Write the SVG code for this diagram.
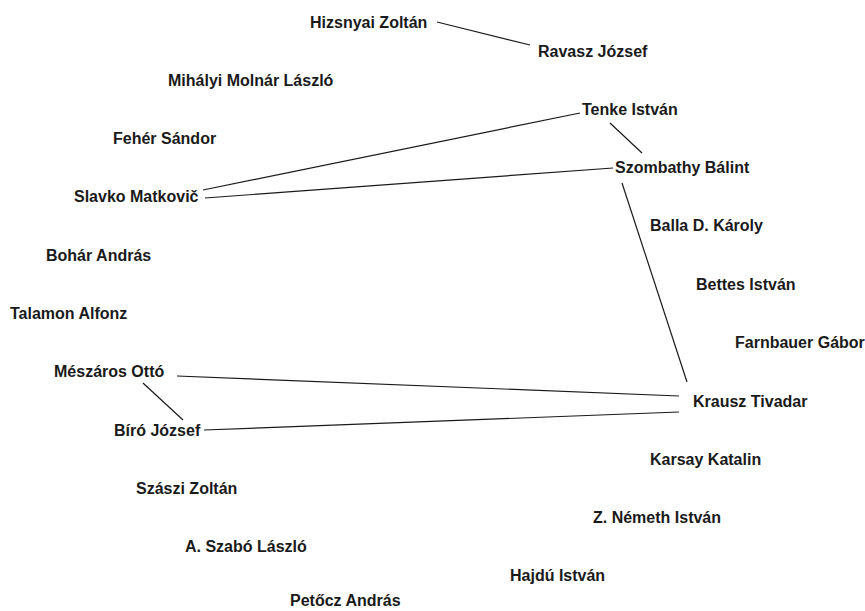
<svg xmlns="http://www.w3.org/2000/svg" width="865" height="611" viewBox="0 0 865 611">
  <style>
    .lbl { font-family: "Liberation Sans", Arial, sans-serif; font-size: 16px; font-weight: bold; fill: #1a1a1a; }
    .edge { stroke: #1a1a1a; stroke-width: 1.2; fill: none; }
  </style>
  <rect width="865" height="611" fill="#ffffff"/>
  <g id="edges">
    <line class="edge" x1="437" y1="22" x2="530" y2="45"/>
    <line class="edge" x1="203" y1="190" x2="580" y2="113"/>
    <line class="edge" x1="205" y1="198" x2="613" y2="168"/>
    <line class="edge" x1="610" y1="123" x2="642" y2="153"/>
    <line class="edge" x1="622" y1="183" x2="687" y2="382"/>
    <line class="edge" x1="177" y1="376" x2="679" y2="396"/>
    <line class="edge" x1="204" y1="430" x2="679" y2="412"/>
    <line class="edge" x1="143" y1="383" x2="183" y2="420"/>
  </g>
  <g id="n-hizsnyai"><text class="lbl" x="310" y="28">Hizsnyai Zoltán</text></g>
  <g id="n-ravasz"><text class="lbl" x="538" y="57">Ravasz József</text></g>
  <g id="n-mihalyi"><text class="lbl" x="168" y="86">Mihályi Molnár László</text></g>
  <g id="n-tenke"><text class="lbl" x="582" y="115">Tenke István</text></g>
  <g id="n-feher"><text class="lbl" x="113" y="144">Fehér Sándor</text></g>
  <g id="n-szombathy"><text class="lbl" x="615" y="173">Szombathy Bálint</text></g>
  <g id="n-matkovic"><text class="lbl" x="74" y="202">Slavko Matkovič</text></g>
  <g id="n-balla"><text class="lbl" x="650" y="231">Balla D. Károly</text></g>
  <g id="n-bohar"><text class="lbl" x="46" y="261">Bohár András</text></g>
  <g id="n-bettes"><text class="lbl" x="696" y="290">Bettes István</text></g>
  <g id="n-talamon"><text class="lbl" x="10" y="319">Talamon Alfonz</text></g>
  <g id="n-farnbauer"><text class="lbl" x="735" y="348">Farnbauer Gábor</text></g>
  <g id="n-meszaros"><text class="lbl" x="54" y="377">Mészáros Ottó</text></g>
  <g id="n-krausz"><text class="lbl" x="693" y="407">Krausz Tivadar</text></g>
  <g id="n-biro"><text class="lbl" x="114" y="436">Bíró József</text></g>
  <g id="n-karsay"><text class="lbl" x="650" y="465">Karsay Katalin</text></g>
  <g id="n-szaszi"><text class="lbl" x="136" y="494">Szászi Zoltán</text></g>
  <g id="n-nemeth"><text class="lbl" x="593" y="523">Z. Németh István</text></g>
  <g id="n-szabo"><text class="lbl" x="185" y="552">A. Szabó László</text></g>
  <g id="n-hajdu"><text class="lbl" x="510" y="581">Hajdú István</text></g>
  <g id="n-petocz"><text class="lbl" x="290" y="606">Petőcz András</text></g>
</svg>
